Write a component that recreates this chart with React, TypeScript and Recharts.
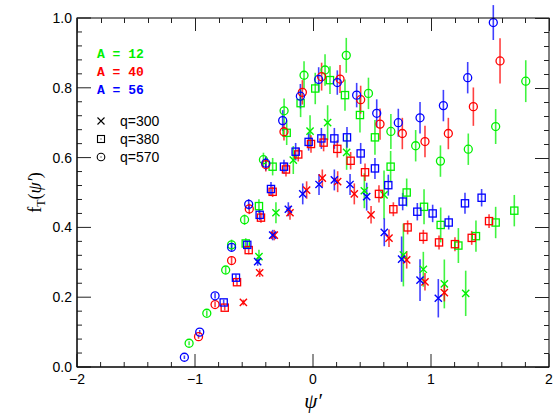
import React from "react";
import { ScatterChart, Scatter, XAxis, YAxis, ErrorBar } from "recharts";

// [psi', f_T, error]
const green570 = [
  [-1.05, 0.068, 0.006], [-0.9, 0.154, 0.008], [-0.74, 0.278, 0.01], [-0.69, 0.35, 0.015],
  [-0.58, 0.422, 0.015], [-0.42, 0.594, 0.02], [-0.245, 0.734, 0.035], [-0.076, 0.836, 0.04],
  [0.102, 0.851, 0.045], [0.282, 0.893, 0.05], [0.47, 0.784, 0.045], [0.66, 0.675, 0.05],
  [0.87, 0.634, 0.045], [1.08, 0.59, 0.045], [1.316, 0.624, 0.045], [1.548, 0.689, 0.05],
  [1.803, 0.819, 0.06],
];
const red570 = [
  [-0.97, 0.087, 0.006], [-0.83, 0.179, 0.008], [-0.69, 0.305, 0.01], [-0.54, 0.453, 0.015],
  [-0.4, 0.58, 0.02], [-0.246, 0.674, 0.025], [-0.09, 0.787, 0.035], [0.073, 0.832, 0.04],
  [0.229, 0.825, 0.04], [0.404, 0.766, 0.04], [0.568, 0.696, 0.045], [0.757, 0.669, 0.045],
  [0.949, 0.646, 0.045], [1.147, 0.669, 0.045], [1.359, 0.746, 0.055], [1.585, 0.877, 0.065],
];
const blue570 = [
  [-1.09, 0.028, 0.005], [-0.96, 0.1, 0.006], [-0.83, 0.204, 0.008], [-0.69, 0.343, 0.012],
  [-0.545, 0.466, 0.015], [-0.4, 0.584, 0.02], [-0.257, 0.706, 0.03], [-0.107, 0.776, 0.035],
  [0.048, 0.824, 0.035], [0.206, 0.815, 0.035], [0.37, 0.779, 0.035], [0.54, 0.727, 0.04],
  [0.723, 0.7, 0.04], [0.907, 0.714, 0.045], [1.105, 0.749, 0.045], [1.311, 0.829, 0.045],
  [1.528, 0.987, 0.05],
];

const green380 = [
  [-0.57, 0.354, 0.015], [-0.458, 0.461, 0.02], [-0.342, 0.574, 0.025], [-0.223, 0.671, 0.035],
  [-0.105, 0.756, 0.04], [0.019, 0.798, 0.045], [0.144, 0.822, 0.04], [0.271, 0.779, 0.045],
  [0.398, 0.722, 0.05], [0.525, 0.658, 0.05], [0.658, 0.574, 0.045], [0.794, 0.5, 0.04],
  [0.941, 0.459, 0.05], [1.082, 0.407, 0.05], [1.232, 0.348, 0.05], [1.381, 0.375, 0.045],
  [1.548, 0.414, 0.045], [1.706, 0.448, 0.045],
];
const red380 = [
  [-0.748, 0.17, 0.008], [-0.644, 0.243, 0.01], [-0.545, 0.335, 0.012], [-0.441, 0.428, 0.015],
  [-0.342, 0.502, 0.015], [-0.229, 0.566, 0.02], [-0.125, 0.609, 0.02], [-0.017, 0.639, 0.025],
  [0.09, 0.643, 0.025], [0.206, 0.625, 0.025], [0.319, 0.591, 0.025], [0.441, 0.558, 0.025],
  [0.559, 0.496, 0.025], [0.681, 0.452, 0.02], [0.802, 0.4, 0.02], [0.935, 0.373, 0.02],
  [1.068, 0.357, 0.02], [1.203, 0.352, 0.02], [1.345, 0.37, 0.02], [1.492, 0.418, 0.02],
];
const blue380 = [
  [-0.757, 0.185, 0.008], [-0.653, 0.256, 0.01], [-0.557, 0.35, 0.012], [-0.452, 0.436, 0.015],
  [-0.356, 0.51, 0.02], [-0.246, 0.574, 0.02], [-0.147, 0.617, 0.025], [-0.037, 0.645, 0.025],
  [0.071, 0.655, 0.03], [0.181, 0.655, 0.03], [0.288, 0.658, 0.03], [0.404, 0.612, 0.03],
  [0.525, 0.569, 0.03], [0.638, 0.521, 0.03], [0.76, 0.474, 0.025], [0.884, 0.445, 0.025],
  [1.014, 0.44, 0.025], [1.15, 0.414, 0.02], [1.288, 0.469, 0.03], [1.429, 0.485, 0.025],
];

const green300 = [
  [-0.458, 0.316, 0.02], [-0.314, 0.442, 0.03], [-0.167, 0.593, 0.04], [-0.025, 0.676, 0.045],
  [0.124, 0.7, 0.05], [0.285, 0.615, 0.05], [0.435, 0.505, 0.05], [0.602, 0.493, 0.07],
  [0.766, 0.321, 0.09], [0.935, 0.28, 0.05], [1.113, 0.238, 0.07], [1.294, 0.211, 0.065],
];
const red300 = [
  [-0.59, 0.185, 0.008], [-0.452, 0.27, 0.012], [-0.328, 0.378, 0.015], [-0.195, 0.442, 0.02],
  [-0.054, 0.507, 0.025], [0.079, 0.541, 0.025], [0.209, 0.531, 0.03], [0.35, 0.496, 0.03],
  [0.492, 0.436, 0.025], [0.644, 0.369, 0.025], [0.794, 0.307, 0.025], [0.949, 0.244, 0.025],
  [1.113, 0.213, 0.025],
];
const blue300 = [
  [-0.469, 0.302, 0.012], [-0.342, 0.378, 0.015], [-0.209, 0.452, 0.02], [-0.087, 0.496, 0.03],
  [0.051, 0.523, 0.03], [0.181, 0.536, 0.03], [0.314, 0.523, 0.03], [0.455, 0.488, 0.04],
  [0.604, 0.386, 0.04], [0.751, 0.309, 0.065], [0.907, 0.249, 0.06], [1.062, 0.197, 0.055],
];

const GREEN = "#00f000";
const RED = "#ff0000";
const BLUE = "#0000ff";

const nuclei = [
  { label: "A = 12", color: GREEN },
  { label: "A = 40", color: RED },
  { label: "A = 56", color: BLUE },
];
const momenta = ["q=300", "q=380", "q=570"];

const X_TICKS = Array.from({ length: 21 }, (_, i) => Number((-2 + i * 0.2).toFixed(1)));
const Y_TICKS = Array.from({ length: 26 }, (_, i) => Number((i * 0.04).toFixed(2)));

const toRows = (arr: number[][]) => arr.map(([x, y, e]) => ({ x, y, e }));

const isMult = (v: number, step: number) => Math.abs(v / step - Math.round(v / step)) < 1e-6;

const TICK = "#222";
const LABEL_FONT = "'Liberation Sans', Arial, sans-serif";

// plot box (pixels)
const LEFT = 77;
const TOP = 18;
const RIGHT_W = 5;
const BOTTOM_H = 46;
const W = 554;
const H = 413;
const RIGHT = W - RIGHT_W;
const BOTTOM = H - BOTTOM_H;

// frame-only helpers for the mirrored top/right tick marks
const frameX = (v: number) => LEFT + ((v + 2) / 4) * (RIGHT - LEFT);
const frameY = (v: number) => BOTTOM - v * (BOTTOM - TOP);

const fmtX = (v: number) => (v < 0 ? "\u2212" + Math.abs(v) : String(v));

const XTick = ({ x, y, payload }: any) => {
  const major = isMult(payload.value, 1);
  const len = major ? 13 : 5;
  return (
    <g>
      <line x1={x} x2={x} y1={y} y2={y - len} stroke={TICK} strokeWidth={1} />
      {major && (
        <text x={x} y={y + 17} textAnchor="middle" fontSize={14} fontFamily={LABEL_FONT} fill="#000">
          {fmtX(payload.value)}
        </text>
      )}
    </g>
  );
};

const YTick = ({ x, y, payload }: any) => {
  const major = isMult(payload.value, 0.2);
  const len = major ? 14 : 5;
  return (
    <g>
      <line x1={x} x2={x + len} y1={y} y2={y} stroke={TICK} strokeWidth={1} />
      {major && (
        <text x={x - 5} y={y + 5} textAnchor="end" fontSize={14} fontFamily={LABEL_FONT} fill="#000">
          {payload.value.toFixed(1)}
        </text>
      )}
    </g>
  );
};

const XTitle = () => (
  <text
    x={(LEFT + RIGHT) / 2}
    y={H - 5}
    textAnchor="middle"
    fontSize={21}
    fontStyle="italic"
    fontFamily="'Liberation Serif', serif"
    fill="#000"
  >
    {"\u03c8\u2032"}
  </text>
);

const YTitle = () => {
  const cx = 41;
  const cy = (TOP + BOTTOM) / 2;
  return (
    <text
      transform={`translate(${cx},${cy}) rotate(-90)`}
      textAnchor="middle"
      fontSize={18}
      fontFamily="'Liberation Serif', serif"
      fill="#000"
    >
      f
      <tspan fontSize={12} dy={4}>T</tspan>
      <tspan dy={-4}>(</tspan>
      <tspan fontStyle="italic">{"\u03c8\u2032"}</tspan>
      <tspan>)</tspan>
    </text>
  );
};

const makeShape = (kind: string, color: string) => (props: any) => {
  const { cx, cy } = props;
  if (cx == null || cy == null) return <g />;
  if (kind === "x") {
    const s = 3.6;
    return (
      <path
        d={`M${cx - s},${cy - s}L${cx + s},${cy + s}M${cx - s},${cy + s}L${cx + s},${cy - s}`}
        stroke={color}
        strokeWidth={1.4}
        fill="none"
      />
    );
  }
  if (kind === "sq") {
    return <rect x={cx - 3.6} y={cy - 3.6} width={7.2} height={7.2} stroke={color} strokeWidth={1.3} fill="none" />;
  }
  return <circle cx={cx} cy={cy} r={4} stroke={color} strokeWidth={1.3} fill="none" />;
};

const series = [
  { data: green380, color: GREEN, kind: "sq" },
  { data: green570, color: GREEN, kind: "o" },
  { data: green300, color: GREEN, kind: "x" },
  { data: red380, color: RED, kind: "sq" },
  { data: red570, color: RED, kind: "o" },
  { data: red300, color: RED, kind: "x" },
  { data: blue380, color: BLUE, kind: "sq" },
  { data: blue570, color: BLUE, kind: "o" },
  { data: blue300, color: BLUE, kind: "x" },
];

const Overlay = () => (
  <svg width={W} height={H} style={{ position: "absolute", left: 0, top: 0, pointerEvents: "none" }}>
    <rect x={LEFT} y={TOP} width={RIGHT - LEFT} height={BOTTOM - TOP} fill="none" stroke="#000" strokeWidth={1} />
    {X_TICKS.map((v) => {
      const px = Math.round(frameX(v)) + 0.5;
      const len = isMult(v, 1) ? 13 : 5;
      return <line key={`t${v}`} x1={px} x2={px} y1={TOP} y2={TOP + len} stroke={TICK} strokeWidth={1} />;
    })}
    {Y_TICKS.map((v) => {
      const py = Math.round(frameY(v)) + 0.5;
      const len = isMult(v, 0.2) ? 14 : 5;
      return <line key={`r${v}`} x1={RIGHT} x2={RIGHT - len} y1={py} y2={py} stroke={TICK} strokeWidth={1} />;
    })}
    <XTitle />
    <YTitle />
    {nuclei.map((n, i) => (
      <text
        key={n.label}
        x={97}
        y={58 + i * 18}
        fontSize={13}
        fontWeight="bold"
        fontFamily="'Liberation Mono', monospace"
        fill={n.color}
        xmlSpace="preserve"
      >
        {n.label}
      </text>
    ))}
    {momenta.map((m, i) => {
      const cy = 121 + i * 18;
      return (
        <g key={m}>
          {i === 0 && <path d={`M97.5,${cy - 3.5}L104.5,${cy + 3.5}M97.5,${cy + 3.5}L104.5,${cy - 3.5}`} stroke="#000" strokeWidth={1.1} />}
          {i === 1 && (
            <g>
              <rect x={97.5} y={cy - 3.5} width={7} height={7} stroke="#000" fill="none" strokeWidth={1.1} />
              <rect x={100.5} y={cy - 0.5} width={1} height={1} fill="#000" />
            </g>
          )}
          {i === 2 && (
            <g>
              <circle cx={101} cy={cy} r={3.8} stroke="#000" fill="none" strokeWidth={1.1} />
              <rect x={100.5} y={cy - 0.5} width={1} height={1} fill="#000" />
            </g>
          )}
          <text x={120} y={cy + 5} fontSize={14} fontFamily={LABEL_FONT} fill="#000">
            {m}
          </text>
        </g>
      );
    })}
  </svg>
);

export default function App() {
  return (
    <div style={{ position: "absolute", left: 0, top: 0, width: W, height: H, background: "#fff" }}>
      <ScatterChart width={W} height={H} margin={{ top: TOP, right: RIGHT_W, bottom: 0, left: 0 }}>
        <XAxis
          dataKey="x"
          type="number"
          domain={[-2, 2]}
          allowDataOverflow
          ticks={X_TICKS}
          interval={0}
          height={BOTTOM_H}
          tickSize={0}
          tickMargin={0}
          tickLine={false}
          axisLine={{ stroke: "#000", strokeWidth: 1 }}
          tick={<XTick />}
        />
        <YAxis
          dataKey="y"
          type="number"
          domain={[0, 1]}
          allowDataOverflow
          ticks={Y_TICKS}
          interval={0}
          width={LEFT}
          tickSize={0}
          tickMargin={0}
          tickLine={false}
          axisLine={{ stroke: "#000", strokeWidth: 1 }}
          tick={<YTick />}
        />
        {series.map((s, i) => (
          <Scatter
            key={i}
            data={toRows(s.data)}
            isAnimationActive={false}
            shape={makeShape(s.kind, s.color)}
          >
            <ErrorBar
              dataKey="e"
              direction="y"
              width={0}
              stroke={s.color}
              strokeWidth={1.6}
              strokeOpacity={0.75}
              isAnimationActive={false}
            />
          </Scatter>
        ))}
      </ScatterChart>
      <Overlay />
    </div>
  );
}
